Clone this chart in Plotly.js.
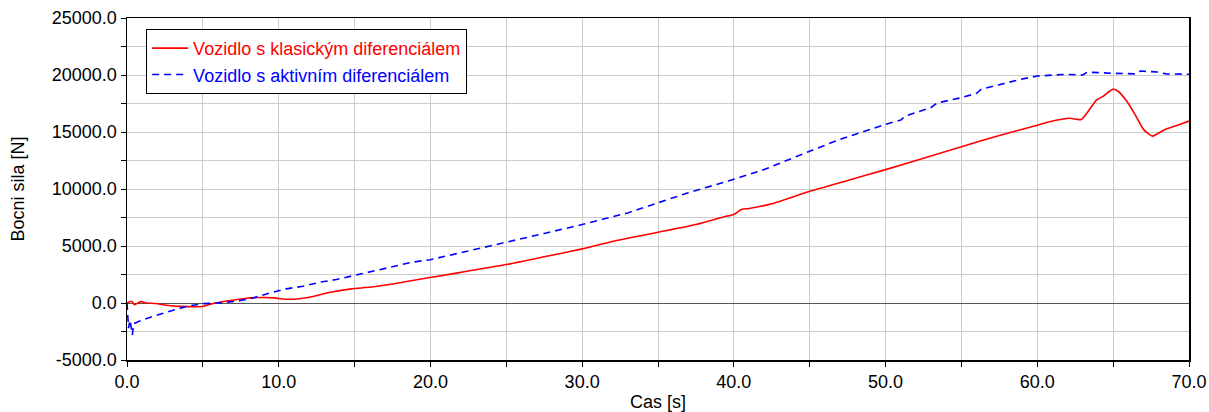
<!DOCTYPE html>
<html>
<head>
<meta charset="utf-8">
<script src="https://cdn.plot.ly/plotly-3.0.1.min.js"></script>
<style>
html,body{margin:0;padding:0;background:#fff;}
#chart{width:1209px;height:412px;}
</style>
</head>
<body>
<div id="chart"></div>
<script>
// Series 1: Vozidlo s klasickým diferenciálem (red, solid)
var redT = [0, 0.3, 0.5, 0.9, 1.3, 1.9, 2.6, 3.5, 5.0, 5.8, 6.7, 7.8, 8.8, 9.7, 10.3, 11.2, 12.1, 13.5, 14.8, 16.1, 17.9, 19.2, 20.5, 22.5, 25, 27.5, 30, 32, 35, 37.5, 39.5, 40, 40.5, 41, 42.5, 45, 47.5, 50, 52.5, 55, 57.5, 60, 60.8, 62.15, 62.9, 63.9, 64.3, 64.96, 65.3, 65.9, 66.5, 67.0, 67.6, 68.3, 69.2, 70];
var redV = [0, 150, -150, 120, 0, -50, -200, -300, -300, 0, 200, 400, 480, 450, 350, 350, 530, 970, 1240, 1400, 1760, 2060, 2350, 2800, 3370, 4050, 4750, 5400, 6200, 6880, 7610, 7760, 8200, 8290, 8700, 9800, 10750, 11700, 12700, 13700, 14700, 15600, 15900, 16200, 16100, 17800, 18100, 18740, 18600, 17700, 16400, 15230, 14640, 15140, 15580, 15960];

// Series 2: Vozidlo s aktivním diferenciálem (blue, dashed)
var blueT = [0, 0.1, 0.2, 0.3, 0.35, 0.45, 0.6, 0.8, 1.7, 2.8, 3.9, 5.0, 6.0, 7.2, 8.3, 9.4, 10.5, 11.6, 12.7, 13.8, 14.9, 16.2, 17.5, 18.8, 20, 22.5, 25, 27.5, 30, 33, 35, 37, 40, 42, 45, 47, 50, 51, 51.3, 52, 53, 53.4, 55, 56, 56.3, 57.5, 58.9, 60, 61.9, 63, 63.3, 65, 66.5, 66.8, 67.9, 68.5, 70];
var blueV = [0, -2200, -1500, -2600, -2800, -1800, -1700, -1600, -1180, -740, -300, -60, 0, 150, 440, 880, 1240, 1470, 1820, 2060, 2400, 2790, 3230, 3580, 3800, 4550, 5330, 6100, 6880, 7900, 8790, 9670, 10850, 11710, 13320, 14350, 15670, 16050, 16400, 16700, 17150, 17550, 18010, 18400, 18750, 19150, 19620, 19910, 20060, 20000, 20250, 20150, 20100, 20350, 20260, 20100, 20060];

var seriesNames = ["Vozidlo s klasickým diferenciálem", "Vozidlo s aktivním diferenciálem"];
var xTickVals = [0, 10, 20, 30, 40, 50, 60, 70];
var xTickText = ["0.0", "10.0", "20.0", "30.0", "40.0", "50.0", "60.0", "70.0"];
var yTickVals = [-5000, 0, 5000, 10000, 15000, 20000, 25000];
var yTickText = ["-5000.0", "0.0", "5000.0", "10000.0", "15000.0", "20000.0", "25000.0"];

var FONT = "Liberation Sans, Arial, sans-serif";

var traces = [
  {x: redT, y: redV, type: "scatter", mode: "lines",
   name: '<span style="color:#ff0000">' + seriesNames[0] + '</span>',
   line: {color: "#ff0000", width: 1.6, shape: "spline", smoothing: 0.6}},
  {x: blueT, y: blueV, type: "scatter", mode: "lines",
   name: '<span style="color:#0000ff">' + seriesNames[1] + '</span>',
   line: {color: "#0000ff", width: 1.6, dash: "7px,5px"}}
];

var layout = {
  width: 1209, height: 412,
  margin: {l: 127, r: 20, t: 18, b: 52},
  paper_bgcolor: "#ffffff", plot_bgcolor: "#ffffff",
  font: {family: FONT, size: 17, color: "#000"},
  showlegend: true,
  legend: {x: 0.018, y: 0.968, xanchor: "left", yanchor: "top",
           bgcolor: "#ffffff", bordercolor: "#000", borderwidth: 1,
           itemwidth: 36,
           font: {family: FONT, size: 18}, tracegroupgap: 0},
  xaxis: {range: [0, 70], tickvals: xTickVals, ticktext: xTickText,
          ticks: "outside", ticklen: 5, tickcolor: "#000",
          showgrid: true, gridcolor: "#cccccc", gridwidth: 1,
          minor: {dtick: 5, tick0: 0, ticks: "outside", ticklen: 5, tickcolor: "#000", showgrid: true, gridcolor: "#cccccc"},
          showline: true, linecolor: "#000", linewidth: 1.5, mirror: true,
          zeroline: false, fixedrange: true,
          tickfont: {family: FONT, size: 18},
          title: {text: "Cas [s]", font: {family: FONT, size: 18}, standoff: 4}},
  yaxis: {range: [-5000, 25000], tickvals: yTickVals, ticktext: yTickText,
          ticks: "outside", ticklen: 5, tickcolor: "#000",
          showgrid: true, gridcolor: "#cccccc", gridwidth: 1,
          minor: {dtick: 2500, tick0: 0, ticks: "outside", ticklen: 5, tickcolor: "#000", showgrid: true, gridcolor: "#cccccc"},
          showline: true, linecolor: "#000", linewidth: 1.5, mirror: true,
          zeroline: true, zerolinecolor: "#555", zerolinewidth: 1,
          fixedrange: true,
          tickfont: {family: FONT, size: 18},
          title: {text: "Bocni sila [N]", font: {family: FONT, size: 18}, standoff: 22}}
};

Plotly.newPlot("chart", traces, layout, {displayModeBar: false, staticPlot: true});
</script>
</body>
</html>
